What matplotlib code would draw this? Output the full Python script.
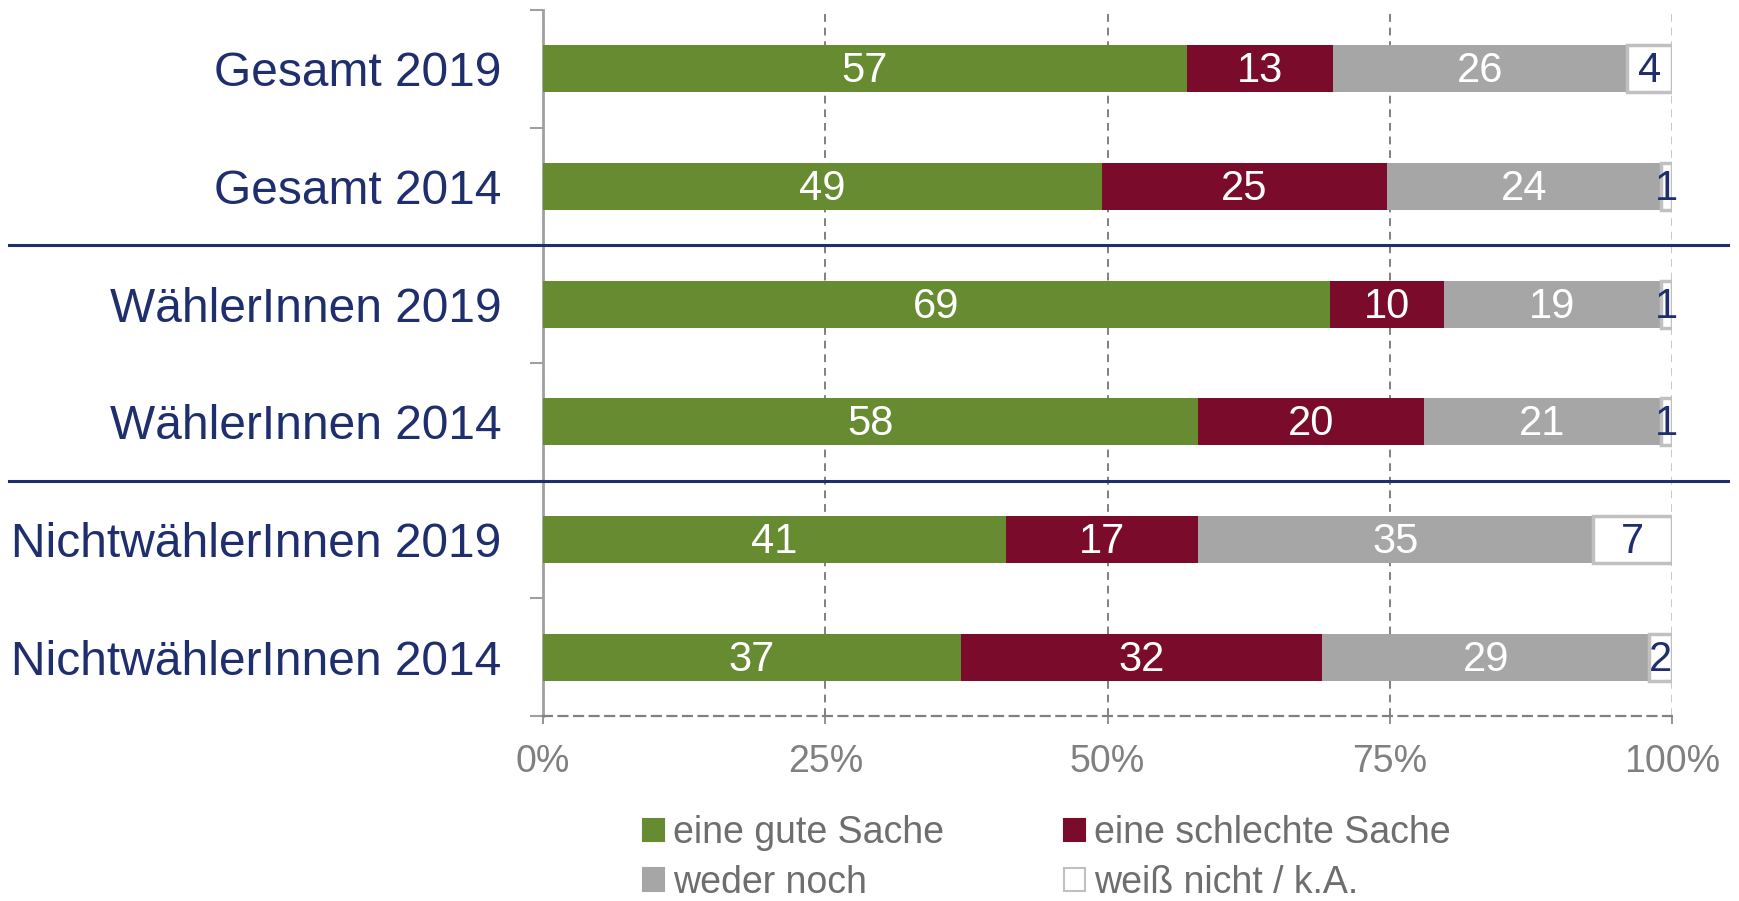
"""Horizontal 100% stacked bars: opinion by group and survey year."""
import numpy as np
import matplotlib; matplotlib.use("Agg")
import matplotlib.pyplot as plt
from matplotlib.patches import Patch
from matplotlib import transforms

plt.rcParams["font.family"] = ["Liberation Sans", "DejaVu Sans"]

groups = ["Gesamt 2019", "Gesamt 2014", "WählerInnen 2019", "WählerInnen 2014",
          "NichtwählerInnen 2019", "NichtwählerInnen 2014"]
answers = ["eine gute Sache", "eine schlechte Sache", "weder noch", "weiß nicht / k.A."]
gute = [57, 49, 69, 58, 41, 37]
schlechte = [13, 25, 10, 20, 17, 32]
weder = [26, 24, 19, 21, 35, 29]
weiss_nicht = [4, 1, 1, 1, 7, 2]

fill = ["#668b31", "#7a0b2b", "#a6a6a6", "#ffffff"]
edge = ["none", "none", "none", "#c0c0c0"]
txt = ["white", "white", "white", "#1f2f6e"]
navy = "#1f2f6e"

vals = np.array([gute, schlechte, weder, weiss_nicht], dtype=float)
shares = vals / vals.sum(axis=0)   # each row scaled to 100 %

fig = plt.figure(figsize=(17.39, 9.01), dpi=100)
ax = fig.add_axes([543 / 1739, 1 - 716 / 901, (1672 - 543) / 1739, (716 - 10) / 901])

y = np.arange(len(groups))
left = np.zeros(len(groups))
for i in range(4):
    ax.barh(y, shares[i], left=left, height=0.40, color=fill[i],
            edgecolor=edge[i], linewidth=2.5, zorder=3)
    for j in range(len(groups)):
        ax.text(left[j] + shares[i, j] / 2, y[j] + 0.02, f"{int(vals[i, j])}",
                ha="center", va="center", color=txt[i], fontsize=30, zorder=4)
    left += shares[i]

ax.set_xlim(0, 1)
ax.set_ylim(5.5, -0.5)
ax.set_xticks([0, 0.25, 0.5, 0.75, 1.0])
ax.set_xticklabels(["0%", "25%", "50%", "75%", "100%"])
ax.tick_params(axis="x", labelsize=27, labelcolor="#808080", color="#808080",
               length=6, width=1.2, pad=14)
ax.set_yticks(y)
ax.set_yticklabels(groups)
ax.tick_params(axis="y", which="major", length=0, labelsize=34.5, labelcolor=navy, pad=30)
ax.set_yticks(np.arange(-0.5, 6.0, 1.0), minor=True)
ax.tick_params(axis="y", which="minor", length=9.5, width=1.5, color="#a0a0a0")

for v, c in [(0.25, "#808080"), (0.5, "#808080"), (0.75, "#808080"), (1.0, "#c8c8c8")]:
    ax.axvline(v, color=c, linestyle=(0, (4, 3)), linewidth=1.4, zorder=1)

for s in ["top", "right"]:
    ax.spines[s].set_visible(False)
ax.spines["left"].set_color("#a0a0a0")
ax.spines["left"].set_linewidth(2)
ax.spines["bottom"].set_color("#808080")
ax.spines["bottom"].set_linestyle((0, (4, 3)))
ax.spines["bottom"].set_linewidth(1.6)

# group separators across the whole width
tr = transforms.blended_transform_factory(fig.transFigure, ax.transData)
for yb in [1.5, 3.5]:
    ax.plot([9 / 1739, 1728 / 1739], [yb, yb], color=navy, linewidth=2.2,
            transform=tr, clip_on=False, zorder=5)

handles = [Patch(facecolor=fill[i], edgecolor=(edge[i] if edge[i] != "none" else fill[i]),
                 linewidth=1.5) for i in range(4)]
order = [0, 2, 1, 3]
leg = fig.legend([handles[k] for k in order], [answers[k] for k in order],
                 ncol=2, loc="upper left", bbox_to_anchor=(643 / 1739, 0.095),
                 frameon=False, fontsize=27, handlelength=0.55, handleheight=0.55,
                 handletextpad=0.25, columnspacing=3.2, labelspacing=0.36,
                 borderpad=0, borderaxespad=0)
for t in leg.get_texts():
    t.set_color("#6e6e6e")

fig.savefig("out.png", dpi=100)
